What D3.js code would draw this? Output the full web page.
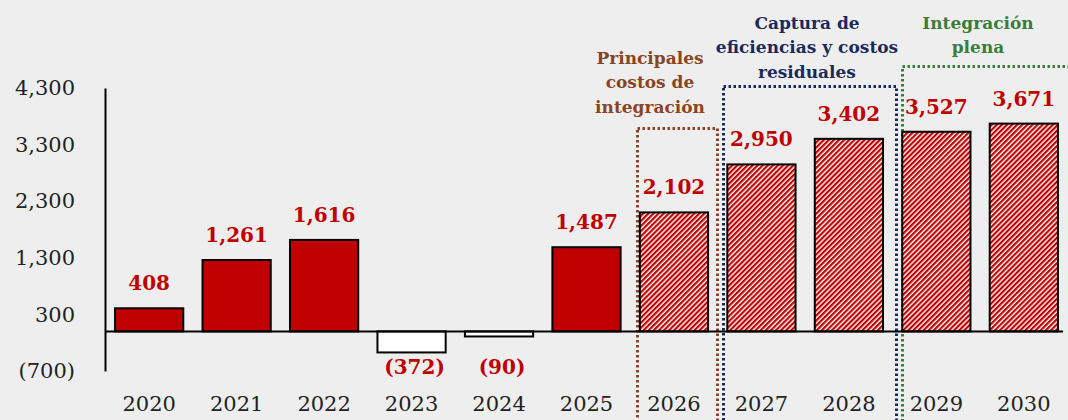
<!DOCTYPE html>
<html>
<head>
<meta charset="utf-8">
<script src="https://cdn.jsdelivr.net/npm/d3@7"></script>
<style>
  body { margin: 0; background: #eeeeee; }
  svg { display: block; }
</style>
</head>
<body>
<script>
// data
var years = ["2020", "2021", "2022", "2023", "2024", "2025", "2026", "2027", "2028", "2029", "2030"];
var values = [408, 1261, 1616, -372, -90, 1487, 2102, 2950, 3402, 3527, 3671];
var kinds = ["real", "real", "real", "real", "real", "real", "proj", "proj", "proj", "proj", "proj"];
var yTicks = [-700, 300, 1300, 2300, 3300, 4300];
var phaseNames = [
  ["Principales", "costos de", "integración"],
  ["Captura de", "eficiencias y costos", "residuales"],
  ["Integración", "plena"]
];
var phaseYears = [["2026", "2026"], ["2027", "2028"], ["2029", "2030"]];
var phaseColors = ["#8a4424", "#1b2a5c", "#3a7d3a"];

var width = 1068,
    height = 420;
var red = "#c00000";
var font = "'DejaVu Serif', serif";

var svg = d3.select("body").append("svg")
    .attr("width", width)
    .attr("height", height);

svg.append("rect").attr("width", width).attr("height", height).attr("fill", "#eeeeee");

// hatch for projected years
var defs = svg.append("defs");
var pat = defs.append("pattern")
    .attr("id", "hatch")
    .attr("patternUnits", "userSpaceOnUse")
    .attr("width", 3.6)
    .attr("height", 3.6)
    .attr("patternTransform", "rotate(45)");
pat.append("rect").attr("width", 3.6).attr("height", 3.6).attr("fill", "#ffffff");
pat.append("rect").attr("width", 2.2).attr("height", 3.6).attr("fill", red);

var x = d3.scaleBand()
    .domain(years)
    .range([105, 1068])
    .paddingInner(0.22)
    .paddingOuter(0.115);

var y = d3.scaleLinear()
    .domain([-700, 4300])
    .range([371, 88]);

var fmt = function(v) {
  var s = d3.format(",")(Math.abs(v));
  return v < 0 ? "(" + s + ")" : s;
};

// y axis
var yAxis = svg.append("g")
    .attr("transform", "translate(105,0)")
    .call(d3.axisLeft(y).tickValues(yTicks).tickFormat(fmt).tickSize(0).tickSizeOuter(0).tickPadding(30));
yAxis.select(".domain").attr("stroke", "#000").attr("stroke-width", 2);
yAxis.selectAll("text")
    .attr("font-family", font)
    .attr("font-size", 21)
    .attr("fill", "#222");

// phase boxes
var boxTops = [128, 86, 66];
var boxPad = [[3, 9], [4, 13], [0, 20]];
var textCx = [650, 807, 978];
var textTop = [64, 29, 29];

phaseYears.forEach(function(p, i) {
  var x0 = Math.round(x(p[0]) - boxPad[i][0]) + 0.5,
      x1 = Math.round(x(p[1]) + x.bandwidth() + boxPad[i][1]) + 0.5;
  svg.append("rect")
      .attr("x", x0)
      .attr("y", boxTops[i] + 0.5)
      .attr("width", x1 - x0)
      .attr("height", height + 20 - boxTops[i])
      .attr("fill", "none")
      .attr("stroke", phaseColors[i])
      .attr("stroke-width", 3)
      .attr("stroke-dasharray", "2.5 2.5");

  svg.append("text")
      .attr("x", textCx[i])
      .attr("y", textTop[i])
      .attr("text-anchor", "middle")
      .attr("font-family", font)
      .attr("font-weight", "bold")
      .attr("font-size", 17)
      .attr("fill", phaseColors[i])
      .selectAll("tspan")
      .data(phaseNames[i])
      .enter().append("tspan")
      .attr("x", textCx[i])
      .attr("dy", function(d, j) { return j ? 24.3 : 0; })
      .text(function(d) { return d; });
});

// bars
var data = years.map(function(yr, i) { return {year: yr, v: values[i], kind: kinds[i]}; });

svg.selectAll(".bar")
    .data(data)
    .enter().append("rect")
    .attr("class", "bar")
    .attr("x", function(d) { return x(d.year); })
    .attr("y", function(d) { return y(Math.max(0, d.v)); })
    .attr("width", x.bandwidth())
    .attr("height", function(d) { return Math.abs(y(d.v) - y(0)); })
    .attr("fill", function(d) {
      if (d.kind == "proj") return "url(#hatch)";
      return d.v < 0 ? "#ffffff" : red;
    })
    .attr("stroke", "#000")
    .attr("stroke-width", 2);

// zero line
svg.append("line")
    .attr("x1", 105)
    .attr("x2", 1063)
    .attr("y1", y(0))
    .attr("y2", y(0))
    .attr("stroke", "#000")
    .attr("stroke-width", 2);

// value labels
svg.selectAll(".val")
    .data(data)
    .enter().append("text")
    .attr("class", "val")
    .attr("x", function(d) { return x(d.year) + x.bandwidth() / 2 + (d.v < 0 ? 3 : 0); })
    .attr("y", function(d) { return d.v < 0 ? y(-700) + 3 : y(d.v) - 18; })
    .attr("text-anchor", "middle")
    .attr("font-family", font)
    .attr("font-weight", "bold")
    .attr("font-size", 20)
    .attr("fill", red)
    .text(function(d) { return fmt(d.v); });

// year labels
svg.selectAll(".yr")
    .data(years)
    .enter().append("text")
    .attr("class", "yr")
    .attr("x", function(d) { return x(d) + x.bandwidth() / 2; })
    .attr("y", 411)
    .attr("text-anchor", "middle")
    .attr("font-family", font)
    .attr("font-size", 21)
    .attr("fill", "#222")
    .text(function(d) { return d; });
</script>
</body>
</html>
